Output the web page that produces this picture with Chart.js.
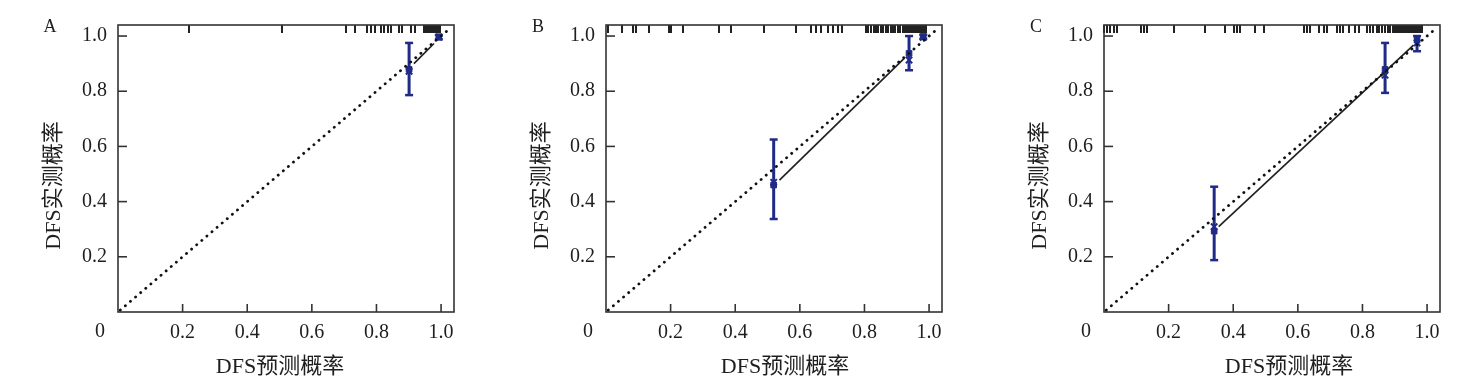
<!DOCTYPE html>
<html>
<head>
<meta charset="utf-8">
<script src="https://cdn.jsdelivr.net/npm/chart.js@4.4.1/dist/chart.umd.min.js"></script>
<style>
  body { margin: 0; background: #fff; }
  .wrap { position: relative; width: 1471px; height: 389px; }
  canvas { position: absolute; top: 0; }
</style>
</head>
<body>
<div class="wrap">
  <canvas id="chartA" width="485" height="389" style="left:0px"></canvas>
  <canvas id="chartB" width="485" height="389" style="left:488px"></canvas>
  <canvas id="chartC" width="485" height="389" style="left:986px"></canvas>
</div>
<script>
// axis text
var xTitle = 'DFS预测概率';
var yTitle = 'DFS实测概率';
var tickValues = [0.2, 0.4, 0.6, 0.8, 1.0];
var tickLabels = ['0.2', '0.4', '0.6', '0.8', '1.0'];
var originLabel = '0';
var idealLine = [0.007, 1.025];

// panel A
var predA = [0.901, 0.993];
var obsA = [0.879, 0.997];
var lowA = [0.786, 0.988];
var highA = [0.975, 1.004];
var corrA = [0.872, 0.996];
var curveXA = [0.916, 0.978];
var curveYA = [0.900, 0.973];
var rugA = [0.219, 0.508, 0.705, 0.735, 0.772, 0.784, 0.797, 0.813, 0.823, 0.836, 0.846,
  0.870, 0.880, 0.906, 0.918, 0.947, 0.952, 0.957, 0.962, 0.967, 0.972, 0.977, 0.982,
  0.987, 0.992, 0.997];

// panel B
var predB = [0.519, 0.938, 0.982];
var obsB = [0.460, 0.937, 0.998];
var lowB = [0.337, 0.876, 0.990];
var highB = [0.625, 1.000, 1.005];
var corrB = [0.470, 0.913, 0.995];
var curveXB = [0.537, 0.923];
var curveYB = [0.478, 0.919];
var rugB = [0.005, 0.048, 0.084, 0.092, 0.133, 0.195, 0.202, 0.239, 0.351, 0.388, 0.490,
  0.589, 0.633, 0.651, 0.667, 0.687, 0.703, 0.718, 0.732, 0.805, 0.812, 0.820, 0.828,
  0.836, 0.843, 0.851, 0.858, 0.866, 0.873, 0.881, 0.889, 0.896, 0.904, 0.911, 0.918,
  0.925, 0.932, 0.938, 0.944, 0.950, 0.956, 0.962, 0.968, 0.974, 0.980, 0.986, 0.992];

// panel C
var predC = [0.341, 0.870, 0.969];
var obsC = [0.293, 0.879, 0.985];
var lowC = [0.188, 0.794, 0.945];
var highC = [0.454, 0.975, 1.000];
var corrC = [0.309, 0.858, 0.975];
var curveXC = [0.355, 0.958];
var curveYC = [0.309, 0.967];
var rugC = [0.000, 0.009, 0.020, 0.030, 0.040, 0.113, 0.123, 0.133, 0.216, 0.314, 0.375,
  0.401, 0.411, 0.422, 0.468, 0.494, 0.618, 0.628, 0.638, 0.664, 0.680, 0.690, 0.721,
  0.731, 0.741, 0.757, 0.778, 0.788, 0.813, 0.823, 0.833, 0.845, 0.852, 0.862, 0.870,
  0.878, 0.886, 0.894, 0.900, 0.906, 0.912, 0.918, 0.924, 0.930, 0.936, 0.942, 0.948,
  0.954, 0.960, 0.966, 0.972, 0.978, 0.984];

var navy = '#1f2b86';
var ink = '#1e1e1e';
var serif = '"Liberation Serif", "DejaVu Serif", serif';

// frame, inner ticks, rug and the free texts
var framePlugin = {
  id: 'frame',
  afterDraw: function(chart, args, opts) {
    var ctx = chart.ctx;
    var a = chart.chartArea;
    var x = chart.scales.x, y = chart.scales.y;
    ctx.save();

    ctx.strokeStyle = '#222';
    ctx.lineWidth = 2;
    opts.rug.forEach(function(v) {
      var px = Math.round(x.getPixelForValue(v));
      ctx.beginPath(); ctx.moveTo(px, a.top); ctx.lineTo(px, a.top + 8); ctx.stroke();
    });

    ctx.strokeStyle = '#333';
    ctx.lineWidth = 1.6;
    ctx.strokeRect(a.left, a.top, a.right - a.left, a.bottom - a.top);
    tickValues.forEach(function(v) {
      var px = x.getPixelForValue(v);
      ctx.beginPath(); ctx.moveTo(px, a.bottom); ctx.lineTo(px, a.bottom - 8); ctx.stroke();
      var py = y.getPixelForValue(v);
      ctx.beginPath(); ctx.moveTo(a.left, py); ctx.lineTo(a.left + 9, py); ctx.stroke();
    });

    ctx.fillStyle = ink;
    ctx.textAlign = 'center';
    ctx.textBaseline = 'middle';
    ctx.font = '20px ' + serif;
    ctx.fillText(originLabel, a.left - 18, a.bottom + 20);
    ctx.font = '18px ' + serif;
    ctx.fillText(opts.letter, a.left - 68, a.top + 2);

    ctx.font = '22px "Liberation Serif", "Noto Sans CJK SC", serif';
    ctx.fillText(xTitle, (a.left + a.right) / 2 + opts.shift, a.bottom + 55);
    ctx.translate(a.left - 64, (a.top + a.bottom) / 2 + 17);
    ctx.rotate(-Math.PI / 2);
    ctx.fillText(yTitle, 0, 0);
    ctx.restore();
  }
};

function pts(xs, ys) {
  return xs.map(function(v, i) { return { x: v, y: ys[i] }; });
}

function barPts(xs, lo, hi) {
  var out = [];
  xs.forEach(function(v, i) {
    out.push({ x: v, y: lo[i] }, { x: v, y: hi[i] }, { x: v, y: null });
  });
  return out;
}

function makePanel(id, letter, shift, pred, obs, low, high, corr, curveX, curveY, rug) {
  return new Chart(document.getElementById(id), {
    type: 'scatter',
    data: {
      datasets: [
        {
          // ideal line
          data: pts(idealLine, idealLine),
          showLine: true, borderColor: '#111', borderWidth: 2.8,
          borderDash: [0.1, 6.6], borderCapStyle: 'round', pointRadius: 0
        },
        {
          data: pts(curveX, curveY),
          showLine: true, borderColor: '#222', borderWidth: 1.7, pointRadius: 0
        },
        {
          data: barPts(pred, low, high),
          showLine: true, spanGaps: false, borderColor: navy, borderWidth: 3,
          pointStyle: 'line', pointRadius: 4, pointBorderWidth: 2.5,
          pointBorderColor: navy
        },
        {
          data: pts(pred, obs),
          pointStyle: 'rect', pointRadius: 4, backgroundColor: navy, borderColor: navy
        },
        {
          data: pts(pred, corr),
          pointStyle: 'crossRot', pointRadius: 4.5, borderWidth: 2, borderColor: navy
        }
      ]
    },
    options: {
      responsive: false,
      animation: false,
      devicePixelRatio: 1,
      layout: { padding: { top: 25, right: 31, left: 0, bottom: 0 } },
      plugins: {
        legend: { display: false },
        tooltip: { enabled: false },
        frame: { letter: letter, shift: shift, rug: rug }
      },
      scales: {
        x: {
          type: 'linear', min: 0, max: 1.04,
          grid: { display: false, drawTicks: false },
          border: { display: false },
          afterBuildTicks: function(s) { s.ticks = tickValues.map(function(v) { return { value: v }; }); },
          afterFit: function(s) { s.height = 77; },
          ticks: {
            padding: 9, color: ink, font: { family: serif, size: 20 },
            maxRotation: 0, autoSkip: false,
            callback: function(v, i) { return tickLabels[i]; }
          }
        },
        y: {
          type: 'linear', min: 0, max: 1.04,
          grid: { display: false, drawTicks: false },
          border: { display: false },
          afterBuildTicks: function(s) { s.ticks = tickValues.map(function(v) { return { value: v }; }); },
          afterFit: function(s) { s.width = 118; },
          ticks: {
            padding: 11, color: ink, font: { family: serif, size: 20 },
            autoSkip: false,
            callback: function(v, i) { return tickLabels[i]; }
          }
        }
      }
    },
    plugins: [framePlugin]
  });
}

makePanel('chartA', 'A', -6, predA, obsA, lowA, highA, corrA, curveXA, curveYA, rugA);
makePanel('chartB', 'B', 11, predB, obsB, lowB, highB, corrB, curveXB, curveYB, rugB);
makePanel('chartC', 'C', 17, predC, obsC, lowC, highC, corrC, curveXC, curveYC, rugC);
</script>
</body>
</html>
